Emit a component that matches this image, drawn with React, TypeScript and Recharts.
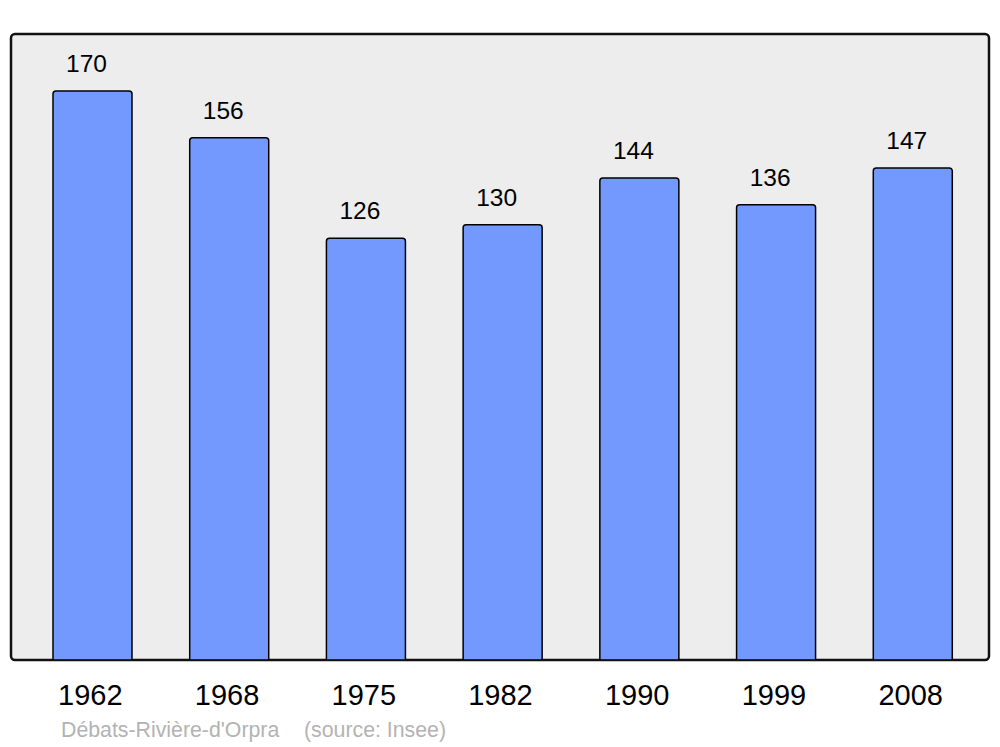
import React from 'react';
import { BarChart, Bar, XAxis, YAxis, ReferenceArea, LabelList, CartesianGrid } from 'recharts';

const years = ['1962', '1968', '1975', '1982', '1990', '1999', '2008'];
const population = [170, 156, 126, 130, 144, 136, 147];
const data = years.map((y, i) => ({ year: y, pop: population[i] }));

const FONT = '"Liberation Sans", Arial, sans-serif';

const Tick = (props: any) => {
  const { x, y, payload } = props;
  return (
    <text x={x - 2} y={y} dy={45} textAnchor="middle" fontFamily={FONT} fontSize={29} fill="#000">
      {payload.value}
    </text>
  );
};

const ValueLabel = (props: any) => {
  const { x, y, width, value } = props;
  return (
    <text x={x + width / 2 - 6} y={y - 19} textAnchor="middle" fontFamily={FONT} fontSize={24.5} fill="#000">
      {value}
    </text>
  );
};

export default function App() {
  return (
    <div style={{ position: 'absolute', left: 0, top: 0, width: 1000, height: 747, background: '#fff' }}>
      <BarChart
        width={1000}
        height={747}
        data={data}
        margin={{ top: 34, left: 11, right: 11, bottom: 37 }}
      >
        <CartesianGrid horizontal={false} vertical={false} fill="#ededed" />
        <XAxis
          dataKey="year"
          height={50}
          padding={{ left: 13, right: 8 }}
          axisLine={false}
          tickLine={false}
          tickSize={0}
          tickMargin={0}
          tick={<Tick />}
          interval={0}
        />
        <XAxis xAxisId="frame" dataKey="year" hide />
        <YAxis hide domain={[0, 187]} allowDataOverflow />
        <Bar
          dataKey="pop"
          barSize={79}
          fill="#7399ff"
          stroke="#000"
          strokeWidth={1.5}
          radius={[3, 3, 0, 0]}
          isAnimationActive={false}
        >
          <LabelList dataKey="pop" content={<ValueLabel />} />
        </Bar>
        <ReferenceArea
          xAxisId="frame"
          y1={0}
          y2={187}
          fill="none"
          stroke="#111"
          strokeWidth={2.5}
          radius={4}
          ifOverflow="visible"
        />
      </BarChart>
      <svg width={1000} height={747} style={{ position: 'absolute', left: 0, top: 0, pointerEvents: 'none' }}>
        <text x={61} y={737} fontFamily={FONT} fontSize={21.3} fill="#b3b3b3">
          Débats-Rivière-d'Orpra
        </text>
        <text x={304} y={737} fontFamily={FONT} fontSize={21.3} fill="#b3b3b3">
          (source: Insee)
        </text>
      </svg>
    </div>
  );
}
